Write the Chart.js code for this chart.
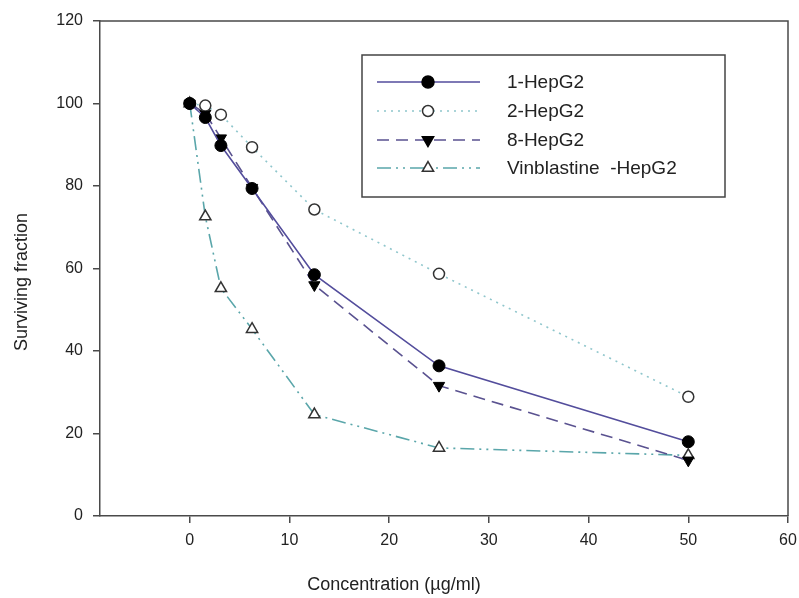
<!DOCTYPE html>
<html lang="en">

<head>
  <meta charset="UTF-8">
  <title>Surviving fraction</title>
  <script src="https://cdn.jsdelivr.net/npm/chart.js"></script>
  <style>
    body { margin: 0; background: #fff; }
    #wrap { width: 799px; height: 598px; }
  </style>
</head>

<body>
  <div id="wrap"><canvas id="myChart"></canvas></div>

  <script>
    // concentration in ug/ml
    const concentrations = [0, 1.5625, 3.125, 6.25, 12.5, 25, 50];

    const labels = ['1-HepG2', '2-HepG2', '8-HepG2', 'Vinblastine  -HepG2'];
    const hepg2_1 = [100, 96.6, 89.8, 79.4, 58.5, 36.4, 18.0];
    const hepg2_2 = [100, 99.5, 97.3, 89.4, 74.3, 58.7, 28.9];
    const hepg2_8 = [100, 97.6, 91.6, 79.6, 56.0, 31.6, 13.5];
    const vinblastine = [100, 72.6, 55.2, 45.3, 24.6, 16.5, 14.7];

    const xTicks = [0, 10, 20, 30, 40, 50, 60];

    function toPoints(values) {
      return values.map(function (v, i) { return { x: concentrations[i], y: v }; });
    }

    const font = 'Liberation Sans, Arial, sans-serif';
    const axisColor = '#4a4a4a';

    // frame on top/right + axis titles + boxed legend
    const decorations = {
      id: 'decorations',
      afterDraw(chart) {
        const ctx = chart.ctx;
        const a = chart.chartArea;
        ctx.save();
        ctx.strokeStyle = axisColor;
        ctx.lineWidth = 1.5;
        ctx.beginPath();
        ctx.moveTo(a.left, a.top);
        ctx.lineTo(a.right, a.top);
        ctx.lineTo(a.right, a.bottom);
        ctx.stroke();

        ctx.fillStyle = '#222';
        ctx.font = '18px ' + font;
        ctx.textAlign = 'center';
        ctx.textBaseline = 'middle';
        ctx.fillText('Concentration (\u00b5g/ml)', 394, 585);
        ctx.save();
        ctx.translate(22, 282);
        ctx.rotate(-Math.PI / 2);
        ctx.fillText('Surviving fraction', 0, 0);
        ctx.restore();

        // legend
        ctx.lineWidth = 1.5;
        ctx.strokeStyle = '#444';
        ctx.fillStyle = '#fff';
        ctx.fillRect(362, 55, 363, 142);
        ctx.strokeRect(362, 55, 363, 142);
        const rows = [82, 111, 140, 168];
        chart.data.datasets.forEach(function (ds, i) {
          const y = rows[i];
          ctx.save();
          ctx.strokeStyle = ds.borderColor;
          ctx.lineWidth = ds.borderWidth;
          ctx.setLineDash(ds.borderDash || []);
          ctx.beginPath();
          ctx.moveTo(377, y);
          ctx.lineTo(480, y);
          ctx.stroke();
          ctx.restore();
          ctx.save();
          ctx.fillStyle = ds.pointBackgroundColor;
          ctx.strokeStyle = ds.pointBorderColor;
          Chart.helpers.drawPoint(ctx, {
            pointStyle: ds.pointStyle,
            rotation: ds.pointRotation || 0,
            radius: ds.pointRadius,
            borderWidth: ds.pointBorderWidth
          }, 428, y);
          ctx.restore();
          ctx.fillStyle = '#222';
          ctx.font = '19px ' + font;
          ctx.textAlign = 'left';
          ctx.fillText(ds.label, 507, y + 1);
        });
        ctx.restore();
      }
    };

    new Chart(document.getElementById('myChart'), {
      type: 'line',
      data: {
        datasets: [
          {
            label: labels[0],
            data: toPoints(hepg2_1),
            borderColor: '#534d9c',
            borderWidth: 1.6,
            pointStyle: 'circle',
            pointRadius: 6,
            pointBackgroundColor: '#000',
            pointBorderColor: '#000',
            pointBorderWidth: 1
          },
          {
            label: labels[1],
            data: toPoints(hepg2_2),
            borderColor: '#8fc6cc',
            borderWidth: 1.6,
            borderDash: [2, 5],
            pointStyle: 'circle',
            pointRadius: 5.5,
            pointBackgroundColor: '#fff',
            pointBorderColor: '#333',
            pointBorderWidth: 1.5
          },
          {
            label: labels[2],
            data: toPoints(hepg2_8),
            borderColor: '#5a5290',
            borderWidth: 1.6,
            borderDash: [12, 7],
            pointStyle: 'triangle',
            pointRotation: 180,
            pointRadius: 6.5,
            pointBackgroundColor: '#000',
            pointBorderColor: '#000',
            pointBorderWidth: 1
          },
          {
            label: labels[3],
            data: toPoints(vinblastine),
            borderColor: '#5aa6aa',
            borderWidth: 1.6,
            borderDash: [14, 5, 2, 5, 2, 5],
            pointStyle: 'triangle',
            pointRadius: 6.5,
            pointBackgroundColor: '#fff',
            pointBorderColor: '#333',
            pointBorderWidth: 1.5
          }
        ]
      },
      options: {
        responsive: true,
        maintainAspectRatio: false,
        animation: false,
        layout: { padding: { top: 21, right: 11, left: 0, bottom: 0 } },
        plugins: {
          legend: { display: false },
          tooltip: { enabled: false }
        },
        elements: { line: { tension: 0, fill: false } },
        scales: {
          x: {
            type: 'linear',
            min: -9,
            max: 60,
            afterBuildTicks(axis) {
              axis.ticks = xTicks.map(function (v) { return { value: v }; });
            },
            afterFit(axis) {
              axis.height = 82;
              axis.paddingRight = 0; // let the "60" label run off the edge
            },
            grid: { drawOnChartArea: false, drawTicks: true, tickLength: 7, color: axisColor, lineWidth: 1.5 },
            border: { display: true, color: axisColor, width: 1.5 },
            ticks: { color: '#222', font: { family: font, size: 16 }, padding: 8, maxRotation: 0 }
          },
          y: {
            min: 0,
            max: 120,
            afterFit(axis) { axis.width = 100; },
            grid: { drawOnChartArea: false, drawTicks: true, tickLength: 7, color: axisColor, lineWidth: 1.5 },
            border: { display: true, color: axisColor, width: 1.5 },
            ticks: { stepSize: 20, color: '#222', font: { family: font, size: 16 }, padding: 10 }
          }
        }
      },
      plugins: [decorations]
    });
  </script>
</body>

</html>
